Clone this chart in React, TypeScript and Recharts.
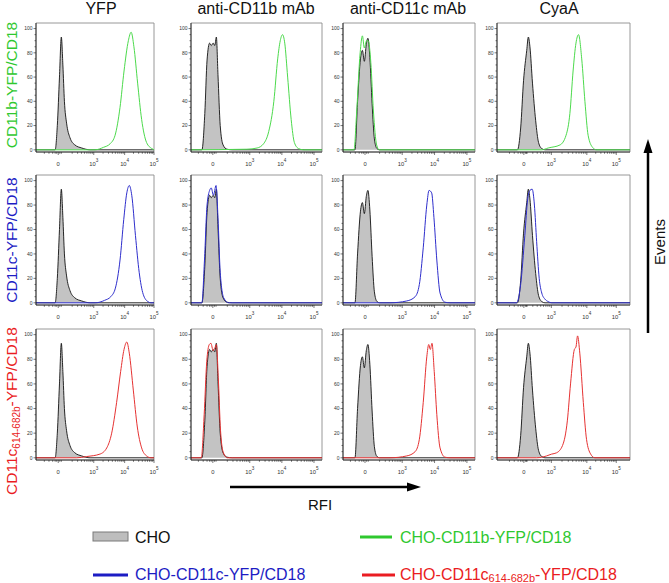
import React from "react";
import { ComposedChart, Area, Line, XAxis, YAxis, ReferenceArea } from "recharts";

type Pt = [number, number];

// x: logicle display units (0 = zero, then about one unit per decade); y: % of max
const choYfp: Pt[] = [[-0.72, 0], [-0.1, 0], [-0.03, 20], [0.04, 60], [0.1, 93], [0.15, 70], [0.2, 40], [0.27, 22], [0.38, 10], [0.54, 4], [0.76, 1.5], [1.03, 0], [3.1, 0]];
const choCd11b: Pt[] = [[-0.68, 0], [-0.34, 0], [-0.25, 30], [-0.18, 74], [-0.1, 88], [-0.05, 86], [0.01, 88], [0.06, 86], [0.11, 93], [0.16, 62], [0.23, 20], [0.32, 4], [0.44, 0.5], [0.6, 0], [3.4, 0]];
const choCd11c: Pt[] = [[-0.68, 0], [-0.31, 0], [-0.23, 40], [-0.14, 75], [-0.08, 82], [-0.02, 73], [0.04, 87], [0.09, 92], [0.15, 76], [0.22, 38], [0.29, 9], [0.37, 1], [0.45, 0], [3.4, 0]];
const choCyaA: Pt[] = [[-0.84, 0], [-0.2, 0], [-0.1, 18], [-0.01, 57], [0.09, 82], [0.14, 93], [0.19, 85], [0.27, 55], [0.37, 24], [0.46, 6], [0.56, 1], [0.66, 0], [3.32, 0]];

const green11: Pt[] = [[-0.72, 0], [1.19, 0], [1.46, 2], [1.68, 5], [1.84, 12], [2.0, 35], [2.13, 65], [2.27, 90], [2.36, 97], [2.45, 85], [2.57, 55], [2.7, 25], [2.86, 6], [3.03, 1], [3.1, 0]];
const green12: Pt[] = [[-0.68, 0], [1.06, 0.5], [1.38, 1.5], [1.58, 5], [1.74, 15], [1.9, 40], [2.02, 75], [2.1, 90], [2.17, 95], [2.24, 88], [2.33, 60], [2.44, 25], [2.54, 6], [2.67, 1], [2.82, 0], [3.4, 0]];
const green13: Pt[] = [[-0.68, 0], [-0.34, 0], [-0.26, 30], [-0.15, 80], [-0.08, 94], [-0.02, 84], [0.05, 90], [0.1, 90], [0.18, 72], [0.26, 32], [0.36, 4], [0.44, 0], [3.4, 0]];
const green14: Pt[] = [[-0.84, 0], [0.56, 0], [0.76, 1.5], [1.13, 4], [1.32, 12], [1.44, 30], [1.54, 65], [1.63, 88], [1.71, 95], [1.81, 75], [1.91, 40], [2.01, 12], [2.15, 2], [2.27, 0], [3.32, 0]];

const blue21: Pt[] = [[-0.72, 0], [1.2, 0], [1.5, 2], [1.7, 5], [1.85, 12], [2.0, 35], [2.12, 68], [2.22, 90], [2.3, 96], [2.38, 88], [2.5, 55], [2.62, 25], [2.75, 7], [2.9, 1], [3.0, 0], [3.1, 0]];
const blue22: Pt[] = [[-0.68, 0], [-0.34, 0], [-0.26, 35], [-0.18, 80], [-0.1, 92], [-0.05, 94], [0.02, 88], [0.1, 96], [0.16, 70], [0.23, 25], [0.34, 4], [0.49, 0], [3.4, 0]];
const blue23: Pt[] = [[-0.68, 0], [0.77, 0], [1.29, 1.5], [1.55, 5], [1.68, 15], [1.8, 45], [1.91, 80], [1.98, 92], [2.06, 90], [2.13, 70], [2.22, 35], [2.32, 8], [2.47, 0.5], [2.63, 0], [3.4, 0]];
const blue24: Pt[] = [[-0.84, 0], [-0.23, 0], [-0.1, 15], [0.03, 55], [0.12, 85], [0.19, 92], [0.26, 93], [0.33, 80], [0.4, 50], [0.48, 20], [0.56, 8], [0.66, 3], [0.76, 1], [0.87, 0], [3.32, 0]];

const red31: Pt[] = [[-0.72, 0], [0.6, 0], [0.92, 1], [1.35, 3], [1.57, 8], [1.73, 20], [1.89, 45], [2.02, 70], [2.13, 88], [2.22, 94], [2.3, 85], [2.43, 55], [2.56, 25], [2.7, 8], [2.86, 1.5], [3.0, 0], [3.1, 0]];
const red32: Pt[] = [[-0.68, 0], [-0.36, 0], [-0.27, 35], [-0.19, 78], [-0.11, 92], [-0.06, 93], [0.01, 87], [0.06, 89], [0.11, 92], [0.17, 65], [0.24, 22], [0.33, 4], [0.45, 0], [3.4, 0]];
const red33: Pt[] = [[-0.68, 0], [0.77, 0], [1.29, 1.5], [1.55, 5], [1.68, 15], [1.8, 45], [1.91, 82], [1.97, 92], [2.02, 88], [2.07, 93], [2.14, 70], [2.22, 35], [2.32, 8], [2.47, 0.5], [2.63, 0], [3.4, 0]];
const red34: Pt[] = [[-0.84, 0], [0.4, 0], [0.71, 1.5], [0.87, 3], [1.02, 4], [1.21, 10], [1.36, 30], [1.46, 60], [1.58, 88], [1.63, 90], [1.68, 99], [1.75, 85], [1.86, 45], [1.96, 15], [2.09, 3], [2.22, 0], [3.32, 0]];

const columnTitles = ["YFP", "anti-CD11b mAb", "anti-CD11c mAb", "CyaA"];
const yTicks = [0, 5, 10, 15, 20, 25, 30, 35, 40, 45, 50, 55, 60, 65, 70, 75, 80, 85, 90, 95, 100];
const xExponents = ["", "3", "4", "5"];

const GREEN = "#2fc82f";
const BLUE = "#1c1cc4";
const RED = "#ea1c22";
const LINE_COLORS = ["#4cda4c", "#2e2ecc", "#e63232"];
const FONT = "'Liberation Sans', Arial, sans-serif";

// layout: plot boxes in page pixels
const COLS = [
  { left: 36, right: 154, domain: [-0.72, 3.1], majors: [0, 1.15, 2.15, 3.1] },
  { left: 191, right: 322, domain: [-0.68, 3.4], majors: [0, 1.15, 2.15, 3.15] },
  { left: 343, right: 475, domain: [-0.68, 3.4], majors: [0, 1.15, 2.15, 3.15] },
  { left: 497, right: 630, domain: [-0.84, 3.32], majors: [0, 0.86, 1.97, 2.89] },
];
const ROWS = [
  { top: 23, bottom: 152 },
  { top: 175, bottom: 305 },
  { top: 329, bottom: 460 },
];
const Y_DOMAIN = [-1.8, 104.6];
const YW = 24;
const XH = 22;
const MT = 6;
const MR = 12;

const chos = [choYfp, choCd11b, choCd11c, choCyaA];
const lines = [
  [green11, green12, green13, green14],
  [blue21, blue22, blue23, blue24],
  [red31, red32, red33, red34],
];

function xTicksFor(p: number[], dom: number[]) {
  const out: number[] = [...p, -0.45, -0.3, -0.18, -0.1, -0.05, 0.05, 0.1];
  const d = p[2] - p[1];
  for (let m = 2; m <= 9; m++) {
    const l = Math.log10(m);
    out.push(p[1] - d + d * l);
    out.push(p[1] + d * l);
    out.push(p[2] + (p[3] - p[2]) * l);
  }
  const kept = out.filter(v => v >= dom[0] && v <= dom[1]).map(v => Math.round(v * 1000) / 1000);
  return Array.from(new Set(kept)).sort((a, b) => a - b);
}

function XTick({ x, payload, majors, axisY }: any) {
  const v = payload.value;
  const idx = majors.findIndex((m: number) => Math.abs(m - v) < 1e-3);
  const major = idx >= 0;
  return (
    <g>
      <line x1={x} x2={x} y1={axisY} y2={axisY + (major ? 3 : 1.8)} stroke="#222" strokeWidth={0.6} />
      {major && (idx === 0 ? (
        <text x={x} y={axisY + 13.5} textAnchor="middle" fontSize={5.8} fill="#333" fontFamily={FONT}>0</text>
      ) : (
        <text x={x} y={axisY + 13.5} textAnchor="middle" fontSize={5.8} fill="#333" fontFamily={FONT}>
          10<tspan dy={-4} fontSize={4.6}>{xExponents[idx]}</tspan>
        </text>
      ))}
    </g>
  );
}

function YTick({ y, payload, axisX }: any) {
  const v = payload.value;
  const major = v % 20 === 0;
  return (
    <g>
      <line x1={axisX - (major ? 2.5 : 1.5)} x2={axisX} y1={y} y2={y} stroke="#222" strokeWidth={0.6} />
      {major && (
        <text x={axisX - 3.5} y={y + 1.8} textAnchor="end" fontSize={5} fill="#333" fontFamily={FONT}>{v}</text>
      )}
    </g>
  );
}

function Panel({ r, c }: { r: number; c: number }) {
  const col = COLS[c];
  const row = ROWS[r];
  const plotW = col.right - col.left;
  const plotH = row.bottom - row.top;
  const w = YW + plotW + MR;
  const h = MT + plotH + XH;
  const cho = chos[c].map(([u, n]) => ({ u, n }));
  const line = lines[r][c].map(([u, n]) => ({ u, n }));
  return (
    <div style={{ position: "absolute", left: col.left - YW, top: row.top - MT, width: w, height: h }}>
      <ComposedChart width={w} height={h} margin={{ top: MT, right: MR, bottom: 0, left: 0 }}>
        <XAxis
          type="number"
          dataKey="u"
          domain={col.domain}
          allowDataOverflow
          ticks={xTicksFor(col.majors, col.domain)}
          interval={0}
          height={XH}
          tickLine={false}
          tickSize={0}
          tickMargin={0}
          axisLine={{ stroke: "#111", strokeWidth: 0.8 }}
          tick={(p: any) => <XTick {...p} majors={col.majors} axisY={MT + plotH} />}
        />
        <YAxis
          type="number"
          dataKey="n"
          domain={Y_DOMAIN}
          allowDataOverflow
          ticks={yTicks}
          interval={0}
          width={YW}
          tickLine={false}
          tickSize={0}
          tickMargin={0}
          axisLine={{ stroke: "#111", strokeWidth: 0.8 }}
          tick={(p: any) => <YTick {...p} axisX={YW} />}
        />
        <ReferenceArea
          x1={col.domain[0]}
          x2={col.domain[1]}
          y1={Y_DOMAIN[0]}
          y2={Y_DOMAIN[1]}
          fill="none"
          stroke="#8c8c8c"
          strokeWidth={0.9}
        />
        <Area
          data={cho}
          dataKey="n"
          type="monotone"
          fill="#c3c3c3"
          fillOpacity={1}
          stroke="#111"
          strokeWidth={0.9}
          dot={false}
          isAnimationActive={false}
        />
        <Line
          data={line}
          dataKey="n"
          type="monotone"
          stroke={LINE_COLORS[r]}
          strokeWidth={1}
          dot={false}
          isAnimationActive={false}
        />
      </ComposedChart>
    </div>
  );
}

export default function App() {
  const titleX = [101, 256, 408, 559];
  return (
    <div style={{ position: "absolute", left: 0, top: 0, width: 669, height: 583, background: "#fff", fontFamily: FONT }}>
      {ROWS.map((_, r) => COLS.map((__, c) => <Panel key={`${r}-${c}`} r={r} c={c} />))}
      <svg width={669} height={583} style={{ position: "absolute", left: 0, top: 0, pointerEvents: "none" }} fontFamily={FONT}>
        {columnTitles.map((t, i) => (
          <text key={t} x={titleX[i]} y={14} textAnchor="middle" fontSize={16} fill="#111">{t}</text>
        ))}
        <text transform="translate(17,85) rotate(-90)" textAnchor="middle" fontSize={15.5} fill={GREEN}>CD11b-YFP/CD18</text>
        <text transform="translate(17,240) rotate(-90)" textAnchor="middle" fontSize={15.5} fill={BLUE}>CD11c-YFP/CD18</text>
        <text transform="translate(17,411) rotate(-90)" textAnchor="middle" fontSize={15.5} fill={RED}>
          CD11c<tspan fontSize={10} dy={3}>614-682b</tspan><tspan dy={-3}>-YFP/CD18</tspan>
        </text>

        <line x1={648} y1={333} x2={648} y2={152} stroke="#000" strokeWidth={2.5} />
        <polygon points="648,139 643.5,153 652.5,153" fill="#000" />
        <text transform="translate(665,242) rotate(-90)" textAnchor="middle" fontSize={15} fill="#111">Events</text>

        <line x1={230} y1={487} x2={408} y2={487} stroke="#000" strokeWidth={2.5} />
        <polygon points="421,487 407,482.5 407,491.5" fill="#000" />
        <text x={320} y={510} textAnchor="middle" fontSize={15} fill="#111">RFI</text>

        <rect x={93} y={532} width={35} height={9} fill="#bdbdbd" stroke="#7a7a7a" strokeWidth={1} />
        <text x={135} y={543} fontSize={16} fill="#111">CHO</text>
        <line x1={360} y1={537} x2={392} y2={537} stroke={GREEN} strokeWidth={3} />
        <text x={400} y={543} fontSize={16} fill={GREEN}>CHO-CD11b-YFP/CD18</text>
        <line x1={93} y1={575} x2={128} y2={575} stroke={BLUE} strokeWidth={3} />
        <text x={135} y={580} fontSize={16} fill={BLUE}>CHO-CD11c-YFP/CD18</text>
        <line x1={362} y1={575} x2={395} y2={575} stroke={RED} strokeWidth={3} />
        <text x={400} y={580} fontSize={16} fill={RED}>
          CHO-CD11c<tspan fontSize={11} dy={2}>614-682b</tspan><tspan dy={-2}>-YFP/CD18</tspan>
        </text>
      </svg>
    </div>
  );
}
